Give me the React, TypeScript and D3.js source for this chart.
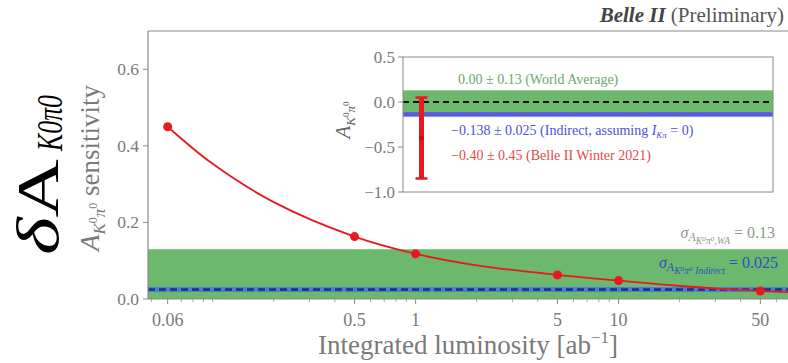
import React from 'react';
import * as d3 from 'd3';

// ---------- data ----------
const lumi = [0.06, 0.5, 1, 5, 10, 50];
const sensitivity = [0.45, 0.163, 0.118, 0.063, 0.048, 0.021];
const fitLumi = [0.06, 0.1, 0.2, 0.5, 1, 2, 5, 10, 20, 50, 70];
const fitSens = [0.45, 0.353, 0.253, 0.163, 0.118, 0.088, 0.063, 0.048, 0.034, 0.021, 0.018];
const xTickValues = [0.06, 0.5, 1, 5, 10, 50];
const xTickLabels = ['0.06', '0.5', '1', '5', '10', '50'];
const yTickValues = [0, 0.2, 0.4, 0.6];
const yTickLabels = ['0.0', '0.2', '0.4', '0.6'];
const worldAvgSigma = 0.13;
const indirectSigma = 0.025;

const insetTickValues = [0.5, 0, -0.5, -1.0];
const insetTickLabels = ['0.5', '0.0', '\u22120.5', '\u22121.0'];
const worldAvgValue = 0.0;
const worldAvgErr = 0.13;
const indirectValue = -0.138;
const indirectErr = 0.025;
const belleValue = -0.40;
const belleErr = 0.45;
const belleX = 0.05;

const FONT = '"Liberation Serif", "DejaVu Serif", serif';
const GRAY = '#7a7a7a';
const GREEN_BAND = '#6cb86c';
const RED = '#e8191e';

export default function App() {
  const x = d3.scaleLog().domain([0.048, 70]).range([148, 790]);
  const y = d3.scaleLinear().domain([0, 0.7]).range([299, 31]);

  const ix = d3.scaleLinear().domain([0, 1]).range([403, 773]);
  const iy = d3.scaleLinear().domain([-1.0, 0.5]).range([192, 57]);

  const minorTicks: number[] = [];
  for (const dec of [0.01, 0.1, 1, 10]) {
    for (let k = 1; k <= 9; k++) {
      const v = +(k * dec).toPrecision(3);
      if (v >= 0.048 && v <= 70 && !xTickValues.includes(v)) minorTicks.push(v);
    }
  }

  const line = d3
    .line<number>()
    .x((_, i) => x(fitLumi[i]))
    .y((d) => y(d))
    .curve(d3.curveCatmullRom.alpha(0.5));

  return (
    <svg
      width={788}
      height={363}
      style={{ position: 'fixed', left: 0, top: 0, background: '#fff' }}
      fontFamily={FONT}
    >
      <defs>
        <clipPath id="mainclip">
          <rect x={148} y={31} width={700} height={268} />
        </clipPath>
      </defs>
      <rect x={0} y={0} width={788} height={363} fill="#fff" />

      {/* main plot content */}
      <g clipPath="url(#mainclip)">
        <rect
          x={148}
          y={y(worldAvgSigma)}
          width={700}
          height={y(0) - y(worldAvgSigma)}
          fill={GREEN_BAND}
        />
        <line x1={148} x2={848} y1={y(indirectSigma)} y2={y(indirectSigma)} stroke="#4a7fd6" strokeWidth={5} />
        <line
          x1={148}
          x2={848}
          y1={y(indirectSigma)}
          y2={y(indirectSigma)}
          stroke="#1b2f86"
          strokeWidth={2.5}
          strokeDasharray="7,4"
        />
        <path d={line(fitSens) || ''} fill="none" stroke={RED} strokeWidth={1.8} />
        {lumi.map((l, i) => (
          <circle key={i} cx={x(l)} cy={y(sensitivity[i])} r={4.5} fill={RED} />
        ))}
      </g>

      {/* frame */}
      <line x1={148} x2={148} y1={31} y2={299} stroke="#8a8a8a" strokeWidth={1.2} />
      <line x1={148} x2={800} y1={31} y2={31} stroke="#8a8a8a" strokeWidth={1.2} />
      <line x1={148} x2={800} y1={299} y2={299} stroke="#8a8a8a" strokeWidth={1.2} />

      {/* y ticks */}
      {yTickValues.map((v, i) => (
        <g key={i}>
          <line x1={143} x2={148} y1={y(v)} y2={y(v)} stroke="#8a8a8a" strokeWidth={1} />
          <text x={139} y={y(v) + 6} textAnchor="end" fontSize={17.5} fill={GRAY}>
            {yTickLabels[i]}
          </text>
        </g>
      ))}

      {/* x ticks */}
      {xTickValues.map((v, i) => (
        <g key={i}>
          <line x1={x(v)} x2={x(v)} y1={299} y2={304} stroke="#8a8a8a" strokeWidth={1} />
          <text x={x(v)} y={326} textAnchor="middle" fontSize={18} fill={GRAY}>
            {xTickLabels[i]}
          </text>
        </g>
      ))}
      {minorTicks.map((v, i) => (
        <line key={i} x1={x(v)} x2={x(v)} y1={299} y2={302} stroke="#8a8a8a" strokeWidth={0.8} />
      ))}

      {/* annotations in main */}
      <text x={775} y={238} textAnchor="end" fontSize={16} fill="#8a9a8a">
        <tspan fontStyle="italic">σ</tspan>
        <tspan fontStyle="italic" fontSize={12} dy={3}>A</tspan>
        <tspan fontStyle="italic" fontSize={9.5} dy={3}>K⁰π⁰,WA</tspan>
        <tspan fontSize={16} dy={-6}>{'   = 0.13'}</tspan>
      </text>
      <text x={778} y={268} textAnchor="end" fontSize={16} fill="#2f4fc0">
        <tspan fontStyle="italic">σ</tspan>
        <tspan fontStyle="italic" fontSize={12} dy={3}>A</tspan>
        <tspan fontStyle="italic" fontSize={9.5} dy={3}>K⁰π⁰ Indirect</tspan>
        <tspan fontSize={16} dy={-6}>{'   = 0.025'}</tspan>
      </text>

      {/* inset */}
      <rect x={403} y={57} width={370} height={135} fill="#fff" />
      <rect
        x={403}
        y={iy(worldAvgValue + worldAvgErr)}
        width={370}
        height={iy(worldAvgValue - worldAvgErr) - iy(worldAvgValue + worldAvgErr)}
        fill={GREEN_BAND}
      />
      <rect
        x={403}
        y={iy(indirectValue + indirectErr)}
        width={370}
        height={iy(indirectValue - indirectErr) - iy(indirectValue + indirectErr)}
        fill="#5a5ae6"
      />
      <line
        x1={403}
        x2={773}
        y1={iy(worldAvgValue)}
        y2={iy(worldAvgValue)}
        stroke="#111"
        strokeWidth={2}
        strokeDasharray="6,4"
      />
      <line
        x1={ix(belleX)}
        x2={ix(belleX)}
        y1={iy(belleValue + belleErr)}
        y2={iy(belleValue - belleErr)}
        stroke={RED}
        strokeWidth={5}
      />
      <line x1={ix(belleX) - 6} x2={ix(belleX) + 6} y1={iy(belleValue + belleErr)} y2={iy(belleValue + belleErr)} stroke={RED} strokeWidth={2.5} />
      <line x1={ix(belleX) - 6} x2={ix(belleX) + 6} y1={iy(belleValue - belleErr)} y2={iy(belleValue - belleErr)} stroke={RED} strokeWidth={2.5} />
      <circle cx={ix(belleX)} cy={iy(belleValue)} r={2.5} fill="#c41014" />
      <rect x={403} y={57} width={370} height={135} fill="none" stroke="#8a8a8a" strokeWidth={1} />
      {insetTickValues.map((v, i) => (
        <g key={i}>
          <line x1={398} x2={403} y1={iy(v)} y2={iy(v)} stroke="#8a8a8a" strokeWidth={1} />
          <text x={395} y={iy(v) + 6} textAnchor="end" fontSize={17} fill={GRAY}>
            {insetTickLabels[i]}
          </text>
        </g>
      ))}
      <text x={458} y={84} fontSize={14} fill="#6aa86a">
        0.00 ± 0.13 (World Average)
      </text>
      <text x={451} y={135} fontSize={14} fill="#5050e0">
        −0.138 ± 0.025 (Indirect, assuming <tspan fontStyle="italic">I</tspan>
        <tspan fontStyle="italic" fontSize={9} dy={3}>Kπ</tspan>
        <tspan dy={-3}> = 0)</tspan>
      </text>
      <text x={451} y={160} fontSize={14} fill="#e44a4a">
        −0.40 ± 0.45 (Belle II Winter 2021)
      </text>
      <text transform="translate(350,120) rotate(-90)" textAnchor="middle" fontSize={21} fill="#666">
        <tspan fontStyle="italic">A</tspan>
        <tspan fontStyle="italic" fontSize={13} dy={5}>K</tspan>
        <tspan fontSize={9} dy={-6}>0</tspan>
        <tspan fontStyle="italic" fontSize={13} dy={6}>π</tspan>
        <tspan fontSize={9} dy={-6}>0</tspan>
      </text>

      {/* axis labels */}
      <text x={468} y={354} textAnchor="middle" fontSize={27} fill={GRAY}>
        Integrated luminosity [ab<tspan fontSize={17} dy={-11}>−1</tspan>
        <tspan dy={11}>]</tspan>
      </text>
      <text transform="translate(99,168) rotate(-90)" textAnchor="middle" fontSize={27} fill={GRAY}>
        <tspan fontStyle="italic">A</tspan>
        <tspan fontStyle="italic" fontSize={17} dy={6}>K</tspan>
        <tspan fontSize={12} dy={-8}>0</tspan>
        <tspan fontStyle="italic" fontSize={17} dy={8}>π</tspan>
        <tspan fontSize={12} dy={-8}>0</tspan>
        <tspan dy={2}> sensitivity</tspan>
      </text>

      {/* big overlay label */}
      <g transform="translate(58,0) rotate(-90)">
        <text x={-255} y={0} fontSize={60} fill="#000" textLength={96} lengthAdjust="spacingAndGlyphs">
          <tspan fontStyle="italic">δ</tspan>
          <tspan>A</tspan>
        </text>
        <text x={-151} y={4} fontSize={36} fontStyle="italic" fill="#000" textLength={56} lengthAdjust="spacingAndGlyphs">
          K0π0
        </text>
      </g>

      {/* top right */}
      <text x={784} y={22} textAnchor="end" fontSize={21} fill="#444">
        <tspan fontWeight="bold" fontStyle="italic">Belle II</tspan>
        <tspan fill="#555"> (Preliminary)</tspan>
      </text>
    </svg>
  );
}
